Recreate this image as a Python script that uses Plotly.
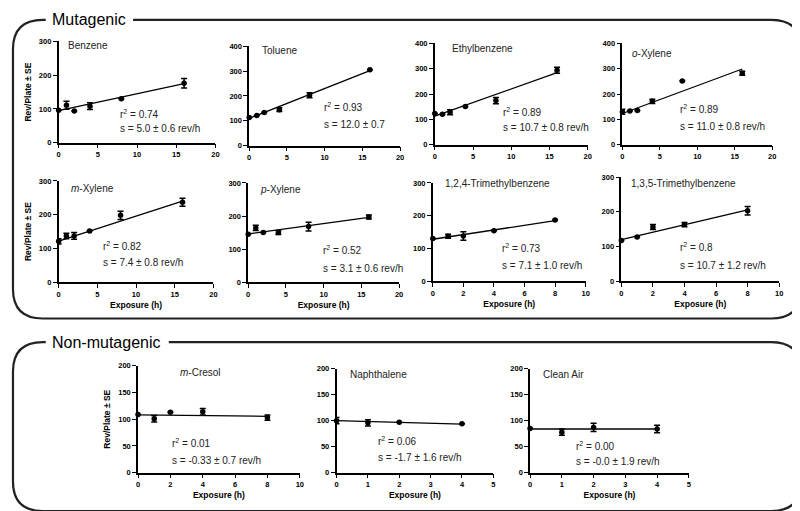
import plotly.graph_objects as go

W, H = 800, 511

# ---------------- data ----------------
benzene_x = [0, 1, 2, 4, 8, 16]
benzene_y = [96, 111, 94, 108, 130, 176]
benzene_se = [0, 12, 0, 10, 0, 14]

toluene_x = [0, 1, 2, 4, 8, 16]
toluene_y = [113, 121, 133, 145, 203, 306]
toluene_se = [0, 0, 0, 8, 10, 0]

ethylbenzene_x = [0, 1, 2, 4, 8, 16]
ethylbenzene_y = [123, 120, 128, 151, 174, 294]
ethylbenzene_se = [0, 0, 10, 0, 12, 12]

oxylene_x = [0, 1, 2, 4, 8, 16]
oxylene_y = [130, 133, 135, 171, 252, 282]
oxylene_se = [10, 0, 0, 8, 0, 8]

mxylene_x = [0, 1, 2, 4, 8, 16]
mxylene_y = [121, 137, 137, 152, 198, 237]
mxylene_se = [8, 8, 10, 0, 12, 12]

pxylene_x = [0, 1, 2, 4, 8, 16]
pxylene_y = [145, 164, 150, 150, 168, 197]
pxylene_se = [0, 8, 0, 6, 13, 6]

tmb124_x = [0, 1, 2, 4, 8]
tmb124_y = [130, 137, 138, 154, 187]
tmb124_se = [0, 6, 13, 0, 0]

tmb135_x = [0, 1, 2, 4, 8]
tmb135_y = [117, 127, 156, 163, 203]
tmb135_se = [0, 0, 7, 6, 12]

mcresol_x = [0, 1, 2, 4, 8]
mcresol_y = [109, 101, 113, 114, 103]
mcresol_se = [0, 6, 0, 6, 5]

naphthalene_x = [0, 1, 2, 4]
naphthalene_y = [100, 96, 97, 94]
naphthalene_se = [6, 6, 0, 0]

cleanair_x = [0, 1, 2, 4]
cleanair_y = [85, 78, 87, 84]
cleanair_se = [0, 6, 8, 7]

compound_names = ["Benzene", "Toluene", "Ethylbenzene", "<i>o</i>-Xylene",
                  "<i>m</i>-Xylene", "<i>p</i>-Xylene", "1,2,4-Trimethylbenzene",
                  "1,3,5-Trimethylbenzene", "<i>m</i>-Cresol", "Naphthalene", "Clean Air"]
r2_values = ["0.74", "0.93", "0.89", "0.89", "0.82", "0.52", "0.73", "0.8", "0.01", "0.06", "0.00"]
slope_labels = ["s = 5.0 ± 0.6 rev/h", "s = 12.0 ± 0.7", "s = 10.7 ± 0.8 rev/h",
                "s = 11.0 ± 0.8 rev/h", "s = 7.4 ± 0.8 rev/h", "s = 3.1 ± 0.6 rev/h",
                "s = 7.1 ± 1.0 rev/h", "s = 10.7 ± 1.2 rev/h", "s = -0.33 ± 0.7 rev/h",
                "s = -1.7 ± 1.6 rev/h", "s = -0.0 ± 1.9 rev/h"]
fit_intercepts = [95, 110, 113, 123, 122, 146, 128, 120, 108, 100, 84]
fit_slopes = [5.0, 12.0, 10.7, 11.0, 7.4, 3.1, 7.1, 10.7, -0.33, -1.7, 0.0]

series_x = [benzene_x, toluene_x, ethylbenzene_x, oxylene_x, mxylene_x, pxylene_x,
            tmb124_x, tmb135_x, mcresol_x, naphthalene_x, cleanair_x]
series_y = [benzene_y, toluene_y, ethylbenzene_y, oxylene_y, mxylene_y, pxylene_y,
            tmb124_y, tmb135_y, mcresol_y, naphthalene_y, cleanair_y]
series_se = [benzene_se, toluene_se, ethylbenzene_se, oxylene_se, mxylene_se, pxylene_se,
             tmb124_se, tmb135_se, mcresol_se, naphthalene_se, cleanair_se]

# ---------------- layout specs (pixels) ----------------
# (x0, x1, ytop, ybottom)
boxes_px = [(49, 207, 30, 133), (241, 393, 35, 136), (428, 582, 32, 135), (617, 768, 32, 135),
            (49, 205, 172, 275), (240, 392, 174, 275), (426, 580, 174, 274), (616, 775, 168, 274),
            (129, 292, 360, 469), (329, 487, 363, 469), (524, 684, 363, 469)]
x_ranges = [20, 20, 20, 20, 20, 20, 10, 10, 10, 5, 5]
x_dticks = [5, 5, 5, 5, 5, 5, 2, 2, 2, 1, 1]
y_ranges = [300, 400, 400, 400, 300, 300, 300, 300, 200, 200, 200]
y_dticks = [100, 100, 100, 100, 100, 100, 100, 100, 50, 50, 50]
name_pos = [(0.05, 0.96), (0.07, 0.96), (0.10, 0.95), (0.05, 0.90), (0.065, 0.93), (0.066, 0.93),
            (0.065, 0.99), (0.05, 0.94), (0.25, 0.94), (0.07, 0.94), (0.07, 0.94)]
txt_pos = [(0.38, 0.28, 0.135), (0.48, 0.39, 0.21), (0.435, 0.32, 0.165), (0.37, 0.35, 0.18),
           (0.275, 0.36, 0.19), (0.48, 0.32, 0.14), (0.44, 0.34, 0.16), (0.36, 0.33, 0.15),
           (0.20, 0.275, 0.11), (0.25, 0.30, 0.15), (0.275, 0.26, 0.11)]
has_xtitle = [False, False, False, False, True, True, True, True, True, True, True]
has_ytitle = [True, False, False, False, True, False, False, False, True, False, False]

FONT = "Liberation Sans, Arial, Helvetica, sans-serif"

fig = go.Figure()
layout = dict(
    width=W, height=H, margin=dict(l=0, r=0, t=0, b=0),
    paper_bgcolor="white", plot_bgcolor="white", showlegend=False,
    font=dict(family=FONT, color="black", size=10),
)
annotations = []

for i in range(11):
    k = "" if i == 0 else str(i + 1)
    xs, ys, se = series_x[i], series_y[i], series_se[i]
    fig.add_trace(go.Scatter(
        x=xs, y=ys, mode="markers", xaxis="x" + k, yaxis="y" + k,
        marker=dict(color="black", size=5.5),
        error_y=dict(type="data", array=se, visible=True, color="black", thickness=1.5, width=3),
        cliponaxis=False, hoverinfo="x+y"))
    xmax = max(xs)
    fig.add_trace(go.Scatter(
        x=[0, xmax], y=[fit_intercepts[i], fit_intercepts[i] + fit_slopes[i] * xmax],
        mode="lines", xaxis="x" + k, yaxis="y" + k,
        line=dict(color="black", width=1.3), cliponaxis=False, hoverinfo="skip"))

    x0, x1, yt, yb = boxes_px[i]
    ax = dict(domain=[x0 / W, x1 / W], anchor="y" + k, range=[0, x_ranges[i]],
              dtick=x_dticks[i], tick0=0, showgrid=False, zeroline=False,
              showline=True, linecolor="black", linewidth=1.5,
              ticks="outside", ticklen=4, tickwidth=1.4, tickcolor="black",
              tickfont=dict(size=7.5, family=FONT, weight="bold"), fixedrange=True)
    if has_xtitle[i]:
        ax["title"] = dict(text="Exposure (h)", font=dict(size=8.5, family=FONT, weight="bold"),
                           standoff=4)
    ay = dict(domain=[1 - yb / H, 1 - yt / H], anchor="x" + k, range=[0, y_ranges[i]],
              dtick=y_dticks[i], tick0=0, showgrid=False, zeroline=False,
              showline=True, linecolor="black", linewidth=1.5,
              ticks="outside", ticklen=4, tickwidth=1.4, tickcolor="black",
              tickfont=dict(size=7.5, family=FONT, weight="bold"), fixedrange=True)
    if has_ytitle[i]:
        ay["title"] = dict(text="Rev/Plate ± SE", font=dict(size=8.5, family=FONT, weight="bold"),
                           standoff=6)
    layout["xaxis" + k] = ax
    layout["yaxis" + k] = ay

    nx, ny = name_pos[i]
    annotations.append(dict(text=compound_names[i], xref="x%s domain" % k, yref="y%s domain" % k,
                            x=nx, y=ny, xanchor="left", yanchor="middle", showarrow=False,
                            font=dict(size=10, family=FONT, color="#222")))
    tx, ty1, ty2 = txt_pos[i]
    annotations.append(dict(text="r<sup>2</sup> = " + r2_values[i], xref="x%s domain" % k,
                            yref="y%s domain" % k, x=tx, y=ty1, xanchor="left", yanchor="middle",
                            showarrow=False, font=dict(size=10, family=FONT, color="#222")))
    annotations.append(dict(text=slope_labels[i], xref="x%s domain" % k,
                            yref="y%s domain" % k, x=tx, y=ty2, xanchor="left", yanchor="middle",
                            showarrow=False, font=dict(size=10, family=FONT, color="#222")))

# section titles
annotations.append(dict(text="Mutagenic", xref="paper", yref="paper", x=40 / W, y=1 - 8 / H,
                        xanchor="left", yanchor="middle", showarrow=False,
                        font=dict(size=16, family=FONT, color="black")))
annotations.append(dict(text="Non-mutagenic", xref="paper", yref="paper", x=40 / W, y=1 - 336 / H,
                        xanchor="left", yanchor="middle", showarrow=False,
                        font=dict(size=16, family=FONT, color="black")))


def P(x, y):
    return "%.5f,%.5f" % (x / W, 1 - y / H)


def section_path(left, right, top, bottom, gap0, gap1, r):
    return ("M " + P(gap1, top) + " L " + P(right - r, top) + " Q " + P(right, top) + " " + P(right, top + r)
            + " L " + P(right, bottom - r) + " Q " + P(right, bottom) + " " + P(right - r, bottom)
            + " L " + P(left + r, bottom) + " Q " + P(left, bottom) + " " + P(left, bottom - r)
            + " L " + P(left, top + r) + " Q " + P(left, top) + " " + P(left + r, top)
            + " L " + P(gap0, top))


shapes = [
    dict(type="path", xref="paper", yref="paper",
         path=section_path(3, 797, 8, 312, 36, 124, 30), line=dict(color="#222", width=2.2)),
    dict(type="path", xref="paper", yref="paper",
         path=section_path(3, 797, 336, 508, 36, 160, 30), line=dict(color="#222", width=2.2)),
]

layout["annotations"] = annotations
layout["shapes"] = shapes
fig.update_layout(**layout)
fig.write_html("out.html")
